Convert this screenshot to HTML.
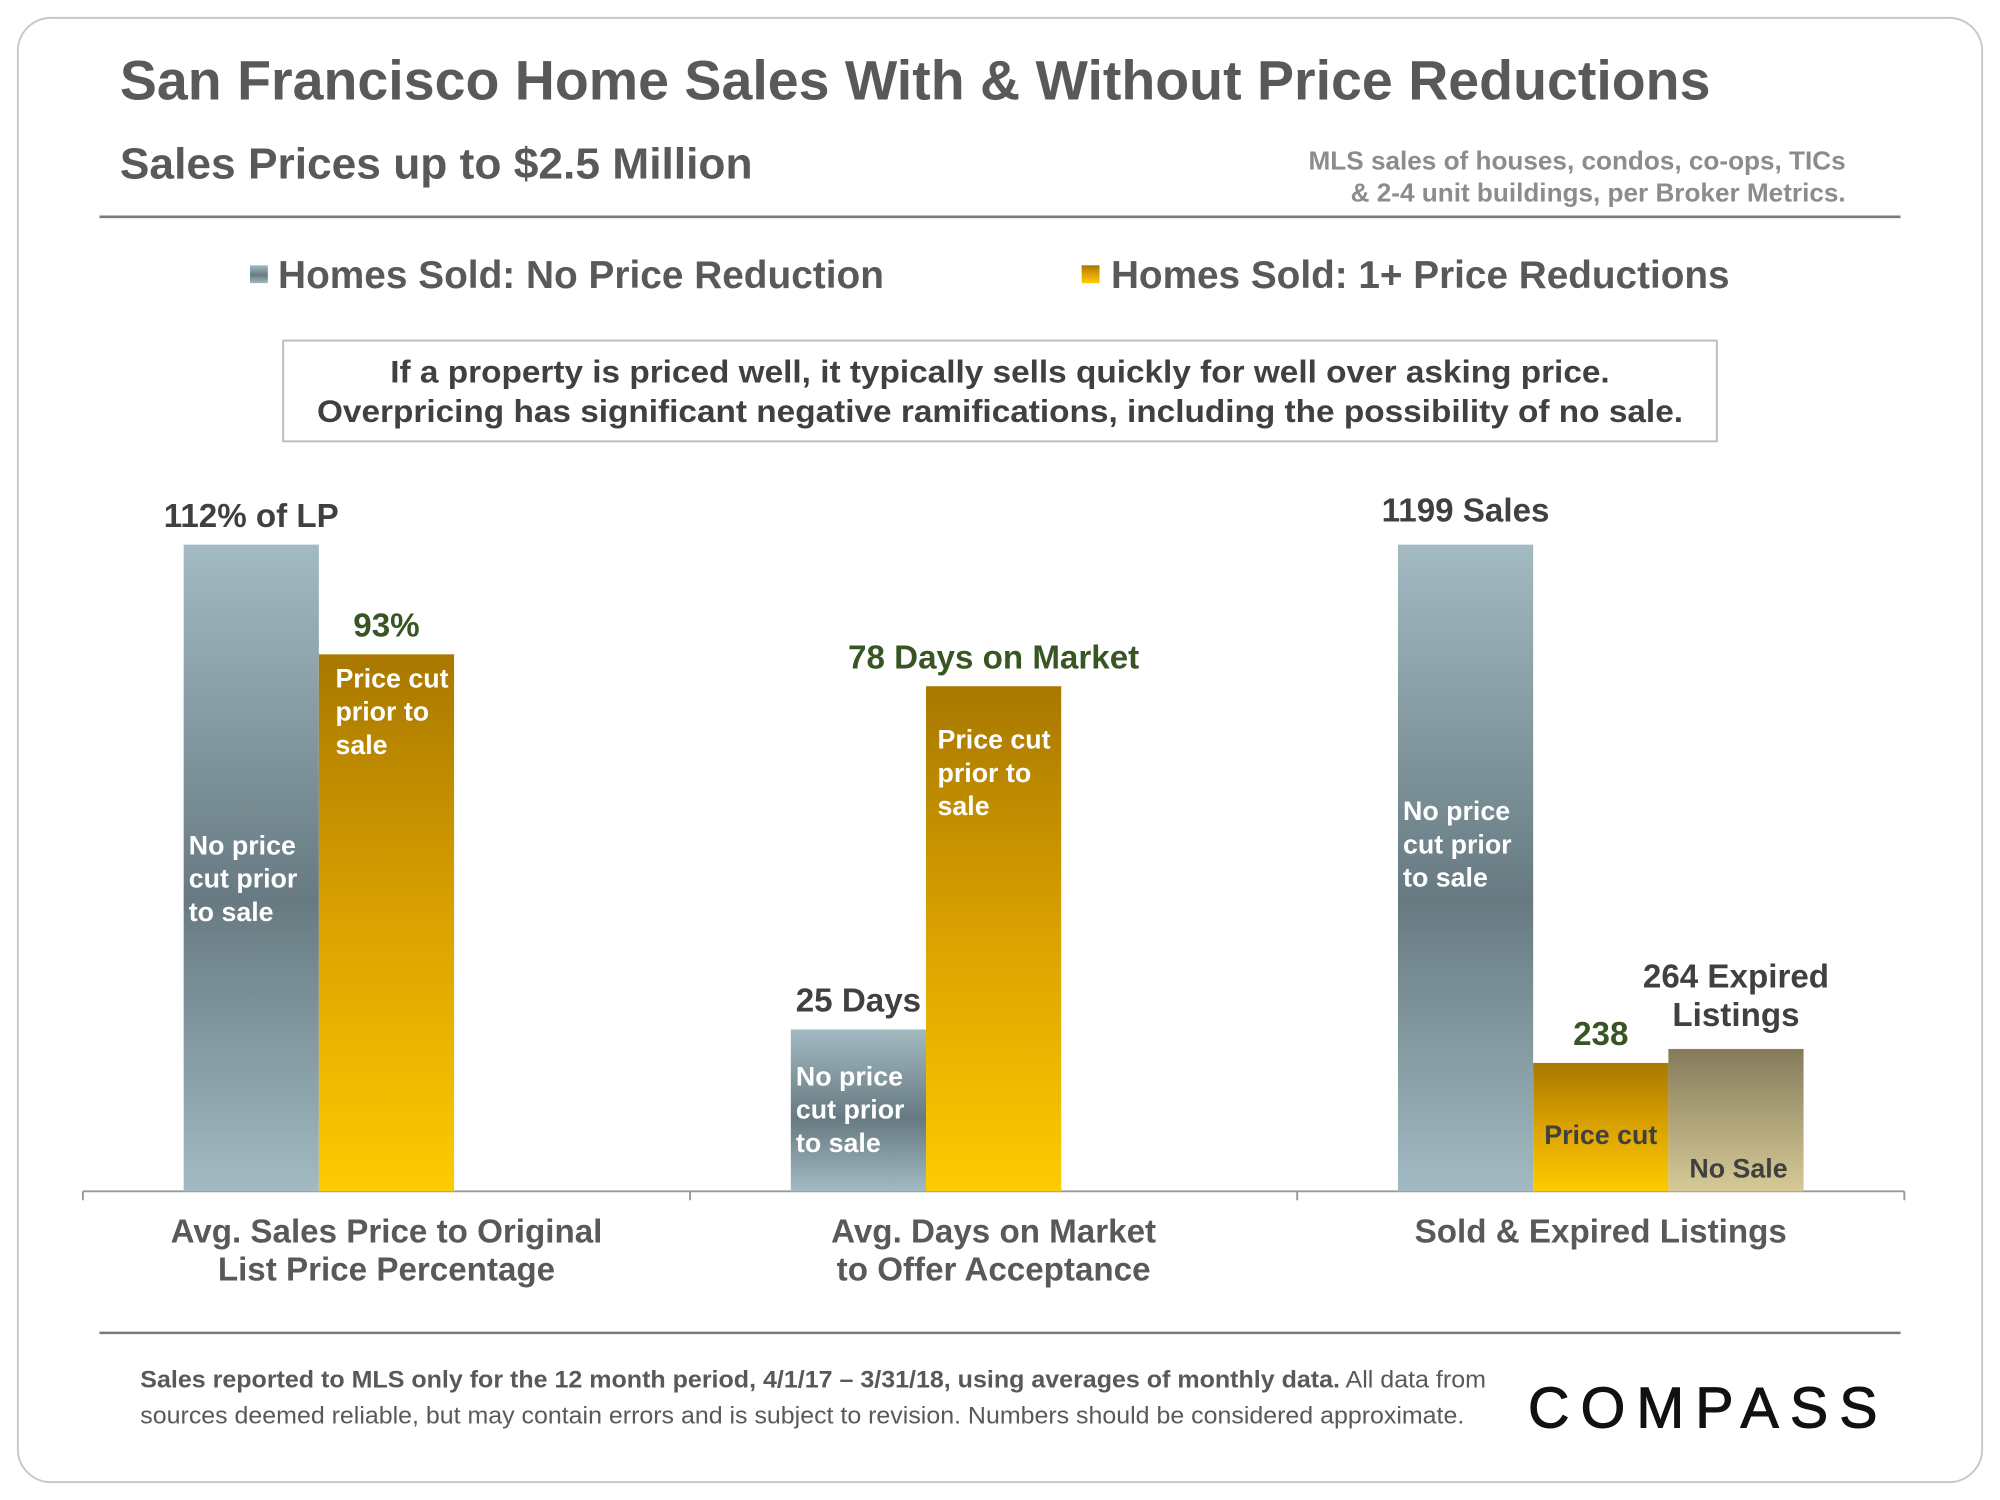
<!DOCTYPE html>
<html><head><meta charset="utf-8"><style>
html,body{margin:0;padding:0;background:#fff;}
svg{display:block;font-family:"Liberation Sans",Arial,sans-serif;}
</style></head><body>
<svg id="chart" width="2000" height="1500" viewBox="0 0 1568 1176" xmlns="http://www.w3.org/2000/svg">
<defs>
<linearGradient id="gBlue" x1="0" y1="0" x2="0" y2="1">
<stop offset="0" stop-color="#a3bac2"/><stop offset="0.55" stop-color="#677a81"/><stop offset="1" stop-color="#a2bac2"/>
</linearGradient>
<linearGradient id="gGold" x1="0" y1="0" x2="0" y2="1">
<stop offset="0" stop-color="#a87800"/><stop offset="0.5" stop-color="#dba200"/><stop offset="1" stop-color="#fdcb00"/>
</linearGradient>
<linearGradient id="gKhaki" x1="0" y1="0" x2="0" y2="1">
<stop offset="0" stop-color="#857b5b"/><stop offset="1" stop-color="#d6ca96"/>
</linearGradient>
</defs>
<rect x="14" y="14" width="1540" height="1148" rx="26" fill="#fff" stroke="#c8c8c8" stroke-width="1.5"/>
<text x="94" y="78" font-size="43.6" font-weight="bold" fill="#595959" textLength="1247" lengthAdjust="spacingAndGlyphs">San Francisco Home Sales With &amp; Without Price Reductions</text>
<text x="94" y="140" font-size="34.5" font-weight="bold" fill="#595959" textLength="496" lengthAdjust="spacingAndGlyphs">Sales Prices up to $2.5 Million</text>
<text font-size="20.5" font-weight="bold" fill="#8c8c8c" text-anchor="end"><tspan x="1447" y="133">MLS sales of houses, condos, co-ops, TICs</tspan><tspan x="1447" y="158">&amp; 2-4 unit buildings, per Broker Metrics.</tspan></text>
<line x1="78" y1="170" x2="1490" y2="170" stroke="#7a7a7a" stroke-width="2"/>
<rect x="196" y="208" width="14" height="14" fill="url(#gBlue)"/>
<text x="218" y="226" font-size="30.5" font-weight="bold" fill="#595959" textLength="475" lengthAdjust="spacingAndGlyphs">Homes Sold: No Price Reduction</text>
<rect x="848" y="208" width="14" height="14" fill="url(#gGold)"/>
<text x="871" y="226" font-size="30.5" font-weight="bold" fill="#595959" textLength="485" lengthAdjust="spacingAndGlyphs">Homes Sold: 1+ Price Reductions</text>
<rect x="222" y="267" width="1124" height="79" fill="#fff" stroke="#bdbdbd" stroke-width="1.5"/>
<text font-size="25" font-weight="bold" fill="#404040" text-anchor="middle"><tspan x="784" y="300" textLength="956" lengthAdjust="spacingAndGlyphs">If a property is priced well, it typically sells quickly for well over asking price.</tspan><tspan x="784" y="331" textLength="1071" lengthAdjust="spacingAndGlyphs">Overpricing has significant negative ramifications, including the possibility of no sale.</tspan></text>
<g id="plot"></g>
<line x1="78" y1="1045" x2="1490" y2="1045" stroke="#7a7a7a" stroke-width="2"/>
<text font-size="18.5" fill="#595959"><tspan x="110" y="1088" textLength="1055" lengthAdjust="spacingAndGlyphs"><tspan font-weight="bold">Sales reported to MLS only for the 12 month period, 4/1/17 – 3/31/18, using averages of monthly data.</tspan> All data from</tspan><tspan x="110" y="1116" textLength="1038" lengthAdjust="spacingAndGlyphs">sources deemed reliable, but may contain errors and is subject to revision. Numbers should be considered approximate.</tspan></text>
<text x="1198" y="1119" font-size="45" fill="#111" stroke="#111" stroke-width="0.8" letter-spacing="12" textLength="286" lengthAdjust="spacing">COMPASS</text>
</svg>
<script>
const categories = ["Avg. Sales Price to Original|List Price Percentage", "Avg. Days on Market|to Offer Acceptance", "Sold & Expired Listings"];
const noReductionValues = [112, 25, 1199];
const reductionValues = [93, 78, 238];
const expiredValues = [null, null, 264];
const groupMax = [112, 78, 1199];
const noReductionLabels = ["112% of LP", "25 Days", "1199 Sales"];
const reductionLabels = ["93%", "78 Days on Market", "238"];
const expiredLabels = [null, null, "264 Expired|Listings"];

const NS = "http://www.w3.org/2000/svg";
const plot = document.getElementById('plot');
const baseY = 934, axisL = 65, axisR = 1493, barW = 106;
const groupW = (axisR - axisL) / categories.length;
const fullH = [507, 396, 507];
function yScale(g, v) { return baseY - v / groupMax[g] * fullH[g]; }
function mk(tag, attrs, parent) { const e = document.createElementNS(NS, tag); for (const k in attrs) e.setAttribute(k, attrs[k]); (parent || plot).appendChild(e); return e; }
function lines(el, txt, x, y, lh) { txt.split('|').forEach((t, i) => { const s = mk('tspan', {x: x, y: y + i * lh}, el); s.textContent = t; }); }

const axis = mk('line', {x1: axisL, y1: baseY, x2: axisR, y2: baseY, stroke: '#999', 'stroke-width': 1.5});


for (let i = 0; i <= categories.length; i++) {
  const x = axisL + i * groupW;
  const t = mk('line', {x1: x, y1: baseY, x2: x, y2: baseY + 7, stroke: '#999', 'stroke-width': 1.5});
  
  
}
categories.forEach((c, g) => {
  const cx = axisL + (g + 0.5) * groupW;
  const tl = mk('text', {'font-size': 26, 'font-weight': 'bold', fill: '#595959', 'text-anchor': 'middle'});
  
  
  lines(tl, c, cx, 974, 30);

  const startX = cx - 1.5 * barW;
  const fills = ['url(#gBlue)', 'url(#gGold)', 'url(#gKhaki)'];
  const names = ['bar-no-reduction', 'bar-price-reduction', 'bar-expired'];
  const vals = [noReductionValues[g], reductionValues[g], expiredValues[g]];
  const labs = [noReductionLabels[g], reductionLabels[g], expiredLabels[g]];
  const labColors = ['#404040', '#375623', '#404040'];
  vals.forEach((v, s) => {
    if (v === null) return;
    const x = startX + s * barW, y = yScale(g, v);
    const r = mk('rect', {x: x, y: y, width: barW, height: baseY - y, fill: fills[s]});
    
    
    const lab = mk('text', {'font-size': 26, 'font-weight': 'bold', fill: labColors[s], 'text-anchor': 'middle'});
    
    
    const nl = labs[s].split('|').length;
    const gap = (g === 2 && s !== 1) ? 18 : 14;
    lines(lab, labs[s], x + barW / 2, y - gap - (nl - 1) * 30, 30);
    let inner = null, ix = x + 4, iy = 0, col = '#fff', anchor = 'start';
    if (s === 0) { inner = 'No price|cut prior|to sale'; iy = g === 1 ? y + 44 : (g === 0 ? 670 : 643); }
    else if (s === 1 && g < 2) { inner = 'Price cut|prior to|sale'; iy = g === 0 ? y + 26 : y + 49; ix = x + (g === 0 ? 13 : 9); }
    else if (s === 1) { inner = 'Price cut'; iy = baseY - 37; col = '#404040'; ix = x + barW / 2; anchor = 'middle'; }
    else { inner = 'No Sale'; iy = baseY - 11; col = '#404040'; ix = x + barW / 2 + 2; anchor = 'middle'; }
    const it = mk('text', {'font-size': 21, 'font-weight': 'bold', fill: col, 'text-anchor': anchor});
    
    
    lines(it, inner, ix, iy, 26);
  });
});
</script>
</body></html>
